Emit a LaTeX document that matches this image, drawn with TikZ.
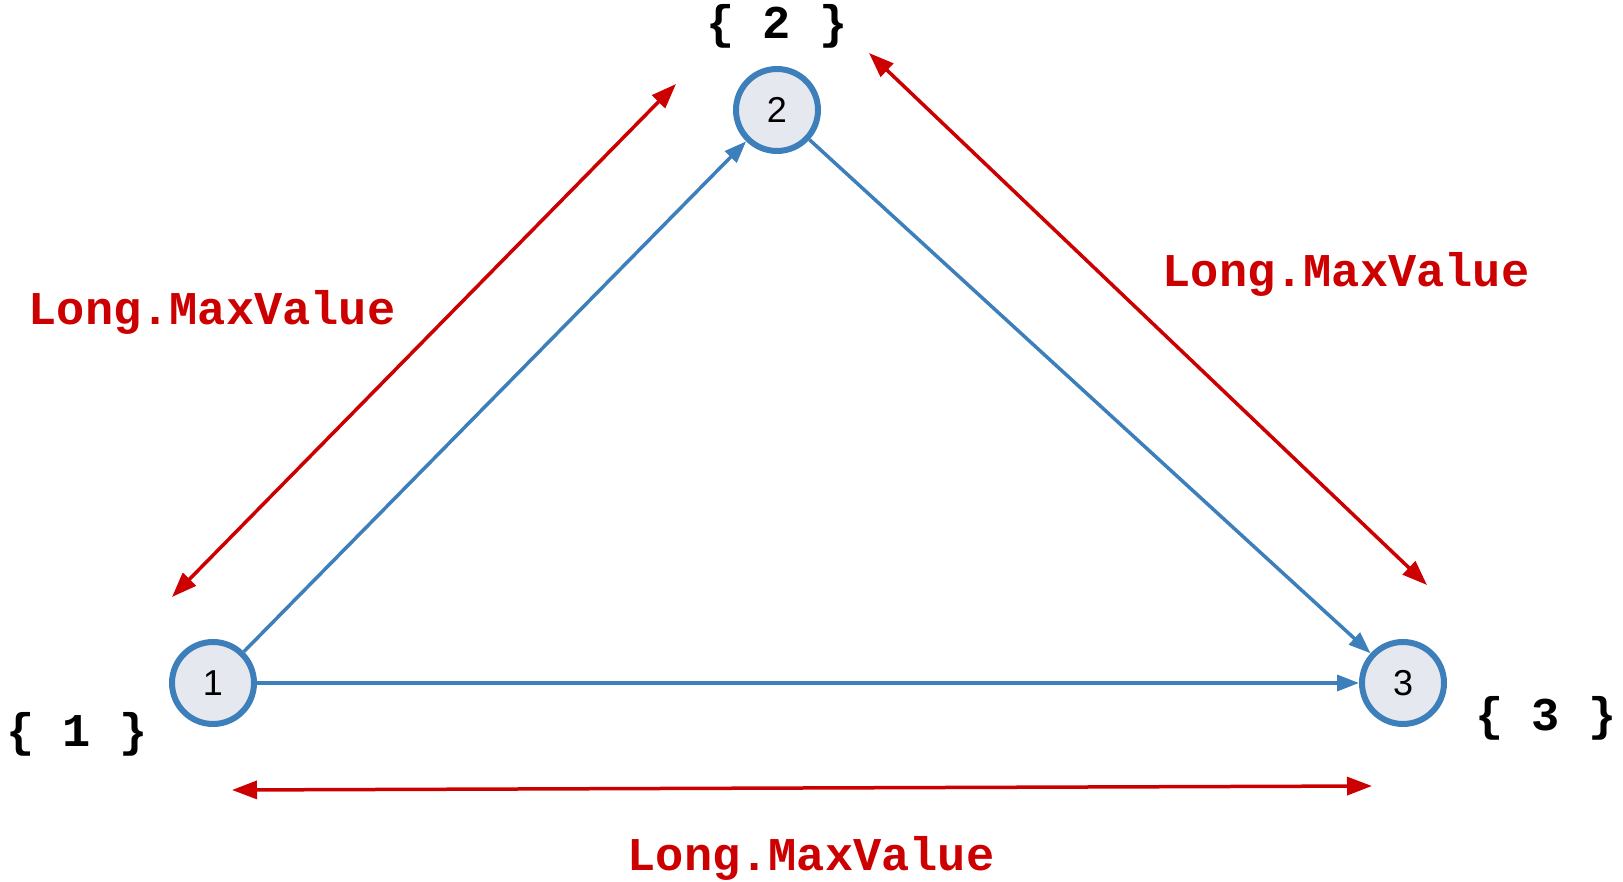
\documentclass[tikz,border=0pt]{standalone}
\usepackage{fontspec}
\setmainfont{Liberation Sans}
\newfontfamily\codefont{Liberation Mono}
\usetikzlibrary{arrows.meta}

\begin{document}
\begin{tikzpicture}[x=1pt,y=-1pt,
    vertex/.style={circle,draw=edgeblue,fill=vertexfill,line width=6pt,
      minimum size=82pt,inner sep=0pt,font=\fontsize{36}{40}\selectfont},
    edge/.style={draw=edgeblue,line width=3.5pt,-{Triangle[length=22pt,width=16pt]}},
    span/.style={draw=spanred,line width=3.5pt,
      {Triangle[length=25pt,width=18pt]}-{Triangle[length=25pt,width=18pt]}},
    weight/.style={text=spanred,font=\codefont\bfseries\fontsize{47}{50}\selectfont},
    setlab/.style={text=black,font=\codefont\bfseries\fontsize{47}{50}\selectfont}]
  \definecolor{edgeblue}{HTML}{3D7FBA}
  \definecolor{vertexfill}{HTML}{E6E8F0}
  \definecolor{spanred}{HTML}{CC0000}
  \path[use as bounding box] (0,0) rectangle (1623,882);

  % graph nodes and their sets
  \node[vertex] (n1) at (213,683) {1};
  \node[vertex] (n2) at (777,110) {2};
  \node[vertex] (n3) at (1403,683) {3};
  \node[setlab] (set1) at (77,734) {\{ 1 \}};
  \node[setlab] (set2) at (777,26) {\{ 2 \}};
  \node[setlab] (set3) at (1546,718) {\{ 3 \}};

  % directed edges
  \draw[edge] (n1) -- (n2);
  \draw[edge] (n2) -- (n3);
  \draw[edge] (n1) -- (n3);

  % initial distances
  \coordinate (a1) at (172,597);
  \coordinate (a2) at (676,84);
  \coordinate (b1) at (869,53);
  \coordinate (b2) at (1427,585);
  \coordinate (c1) at (232,790);
  \coordinate (c2) at (1372,786);
  \draw[span] (a1) -- (a2);
  \draw[span] (b1) -- (b2);
  \draw[span] (c1) -- (c2);
  \node[weight] (w12) at (212,312) {Long.MaxValue};
  \node[weight] (w23) at (1346,274) {Long.MaxValue};
  \node[weight] (w13) at (811,858) {Long.MaxValue};
\end{tikzpicture}
\end{document}
